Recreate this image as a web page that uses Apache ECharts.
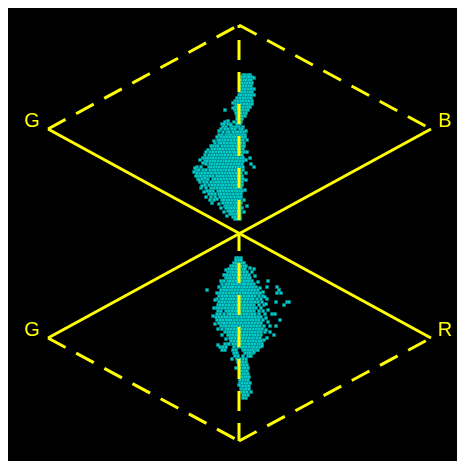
<!DOCTYPE html>
<html>
<head>
<meta charset="utf-8">
<style>
  html, body { margin: 0; padding: 0; background: #fff; overflow: hidden; }
  #chart { position: absolute; left: 8px; top: 8px; width: 449px; height: 453px; }
</style>
<script src="https://cdn.jsdelivr.net/npm/echarts@6/dist/echarts.min.js"></script>
</head>
<body>
<div id="chart"></div>
<script>
// corners of the double hexcone
const centre = [239, 233];
const top_ = [239, 25];
const bottom = [239, 441];
const upperLeft = [48, 129];
const upperRight = [431, 129];
const lowerLeft = [48, 338];
const lowerRight = [431, 338];

const labels = [
  ['G', 32, 121],
  ['B', 445, 121],
  ['G', 32, 330],
  ['R', 445, 330]
];

// upper lobe, one entry per row: [y, [x, x, ...]]
const upperCloud = [
  [75, [243, 245, 248, 250]],
  [77, [242, 244, 247, 249, 252]],
  [80, [241, 244, 246, 249, 251]],
  [83, [242, 245, 247, 250, 252]],
  [86, [241, 243, 246, 249, 251]],
  [89, [240, 243, 245, 248, 251, 254]],
  [92, [240, 242, 245, 248, 250, 252]],
  [95, [239, 241, 244, 246, 249, 251]],
  [98, [237, 240, 243, 245, 248, 251]],
  [101, [235, 238, 241, 243, 246, 249, 252]],
  [104, [236, 238, 241, 244, 247, 250, 252]],
  [107, [235, 237, 240, 243, 246, 248, 250]],
  [110, [235, 238, 241, 243, 246, 248]],
  [113, [236, 239, 241, 244, 246]],
  [116, [237, 239, 242, 245]],
  [119, [237, 240, 242]],
  [122, [238, 241, 225]],
  [124, [222, 224, 228, 230, 237, 240]],
  [127, [223, 226, 231, 233, 236, 239, 243]],
  [129, [221, 225, 228, 232, 235, 240, 242]],
  [132, [223, 227, 229, 233, 236, 238, 241, 244]],
  [135, [219, 222, 226, 229, 231, 234, 237, 240, 243, 245]],
  [137, [217, 221, 224, 227, 230, 233, 235, 238, 242, 245]],
  [140, [218, 220, 223, 225, 228, 231, 234, 237, 240, 243]],
  [143, [215, 219, 221, 224, 227, 230, 232, 235, 238, 241, 244]],
  [146, [213, 216, 218, 222, 225, 228, 231, 233, 236, 239, 242, 244]],
  [149, [212, 215, 218, 220, 223, 226, 229, 232, 234, 237, 240, 243]],
  [152, [210, 213, 216, 219, 221, 224, 227, 230, 233, 235, 238, 241, 244]],
  [155, [205, 209, 212, 214, 217, 220, 222, 225, 228, 231, 234, 236, 239, 242]],
  [158, [203, 206, 208, 211, 213, 216, 219, 222, 224, 227, 230, 233, 236, 238, 241, 243, 250]],
  [161, [205, 207, 210, 213, 215, 218, 221, 224, 226, 229, 232, 235, 237, 240, 243]],
  [164, [206, 210, 212, 215, 217, 220, 223, 226, 228, 231, 234, 237, 239, 242, 251]],
  [167, [197, 201, 209, 211, 214, 217, 219, 222, 225, 227, 230, 233, 236, 238, 241, 243, 254]],
  [170, [196, 199, 203, 206, 210, 213, 215, 218, 221, 224, 226, 229, 232, 235, 238, 240, 243]],
  [173, [197, 200, 202, 205, 208, 211, 214, 216, 219, 222, 225, 228, 230, 233, 236, 239, 241, 246]],
  [176, [196, 199, 201, 204, 207, 210, 213, 217, 220, 223, 226, 229, 231, 234, 237, 240, 242]],
  [179, [198, 202, 205, 208, 213, 215, 218, 221, 224, 227, 230, 232, 235, 238, 241, 243]],
  [182, [200, 204, 207, 211, 214, 216, 219, 222, 225, 228, 231, 233, 236, 239, 242]],
  [185, [205, 209, 212, 215, 218, 221, 223, 226, 229, 232, 234, 237, 240, 242]],
  [188, [201, 206, 211, 214, 217, 220, 222, 225, 228, 231, 234, 236, 239, 241]],
  [191, [207, 210, 213, 218, 220, 223, 226, 229, 232, 235, 237, 240, 242]],
  [194, [209, 212, 215, 219, 221, 224, 227, 230, 233, 236, 238, 241]],
  [197, [211, 215, 220, 223, 225, 228, 231, 234, 237, 239, 241]],
  [200, [210, 214, 222, 224, 227, 229, 232, 235, 238, 240]],
  [203, [223, 226, 228, 231, 234, 236, 239, 241]],
  [206, [225, 227, 230, 233, 235, 238, 240, 247]],
  [208, [226, 229, 231, 234, 237, 239, 242]],
  [211, [228, 230, 233, 236, 238, 240]],
  [214, [230, 232, 235, 237, 240]],
  [217, [233, 235, 238, 240]],
  [219, [235, 237, 240]]
];

// loose points around the upper lobe's edge: [x, y]
const upperStrays = [
  [228, 121], [234, 122], [231, 125], [219, 131], [214, 141], [211, 146], [208, 150], [206, 152],
  [200, 160], [203, 163], [195, 168], [194, 172], [205, 178], [199, 180], [202, 186], [204, 192],
  [206, 197], [212, 203], [217, 199], [219, 204], [221, 208], [224, 212], [227, 216],
  [246, 131], [247, 140], [247, 152], [246, 160], [246, 180], [245, 190], [244, 200], [244, 212],
  [254, 78], [254, 95], [233, 103], [233, 108], [225, 110]
];

// lower lobe, same layout
const lowerCloud = [
  [258, [236, 238, 241]],
  [260, [236, 239, 241]],
  [263, [234, 236, 239, 242, 244]],
  [266, [231, 233, 236, 239, 241, 244, 246]],
  [269, [229, 232, 235, 237, 240, 243, 245, 254]],
  [272, [228, 231, 233, 236, 239, 241, 244, 247]],
  [275, [225, 227, 230, 233, 235, 238, 241, 244, 246, 249]],
  [278, [226, 229, 231, 234, 237, 240, 242, 245, 248, 250]],
  [281, [224, 228, 230, 233, 236, 239, 241, 244, 247, 249, 252, 268]],
  [284, [222, 226, 229, 232, 234, 237, 240, 243, 245, 248, 251, 254]],
  [287, [223, 225, 228, 231, 233, 236, 239, 242, 244, 247, 250, 253, 256, 267, 277]],
  [290, [207, 221, 224, 227, 230, 232, 235, 238, 241, 243, 246, 249, 252, 255, 258, 279]],
  [293, [220, 223, 226, 229, 232, 234, 237, 240, 243, 245, 248, 251, 254, 257, 260, 277, 281]],
  [296, [219, 222, 225, 227, 230, 233, 236, 238, 241, 244, 247, 249, 252, 255, 259, 263]],
  [299, [217, 221, 223, 226, 229, 231, 234, 237, 240, 242, 245, 248, 251, 253, 257, 261, 267]],
  [302, [219, 222, 225, 228, 230, 233, 236, 239, 241, 244, 247, 250, 252, 255, 258, 262, 276, 287, 289]],
  [305, [218, 220, 223, 226, 229, 232, 234, 237, 240, 243, 245, 248, 251, 254, 259, 264, 284]],
  [308, [217, 219, 222, 225, 228, 231, 233, 236, 239, 242, 244, 247, 250, 253, 256, 261]],
  [311, [218, 221, 226, 229, 232, 235, 237, 240, 243, 246, 248, 251, 254, 259, 263]],
  [314, [217, 220, 224, 228, 230, 233, 236, 239, 241, 244, 247, 250, 252, 255, 259, 265, 272, 275]],
  [317, [216, 219, 222, 225, 227, 230, 233, 236, 238, 241, 244, 247, 249, 252, 255, 258, 261]],
  [320, [217, 220, 223, 226, 229, 231, 234, 237, 240, 242, 245, 248, 251, 253, 256, 259, 263, 280]],
  [323, [219, 222, 224, 227, 230, 233, 235, 238, 241, 244, 246, 249, 252, 255, 258, 261]],
  [326, [221, 224, 226, 229, 232, 235, 237, 240, 243, 246, 248, 251, 254, 257, 260, 264, 270, 276]],
  [329, [222, 226, 228, 231, 234, 237, 239, 242, 245, 248, 250, 253, 256, 259, 262]],
  [332, [225, 228, 230, 233, 236, 239, 241, 244, 247, 250, 252, 255, 258, 261, 265, 270]],
  [335, [228, 231, 233, 236, 239, 242, 244, 247, 250, 253, 255, 258, 261, 274]],
  [338, [230, 232, 235, 238, 241, 243, 246, 249, 252, 254, 257, 260, 267]],
  [341, [231, 234, 237, 240, 242, 245, 248, 251, 253, 256, 259, 261]],
  [344, [225, 228, 233, 236, 238, 241, 244, 247, 249, 252, 255, 258, 260, 262]],
  [347, [220, 223, 226, 234, 238, 241, 243, 246, 249, 252, 254, 257, 260]],
  [350, [222, 225, 233, 236, 243, 245, 248, 251, 253, 256, 258]],
  [353, [234, 237, 245, 248, 250, 253]],
  [356, [235, 238, 243, 248, 251]],
  [359, [237, 240, 243, 246]],
  [362, [238, 241, 243, 246]],
  [365, [239, 242, 244, 247]],
  [368, [236, 240, 243, 245, 248]],
  [371, [240, 242, 245, 247]],
  [374, [240, 243, 245, 248]],
  [377, [240, 242, 245, 247, 249]],
  [380, [240, 243, 246, 248]],
  [383, [240, 242, 245, 247, 250]],
  [386, [241, 243, 246, 249]],
  [389, [241, 244, 246, 249]],
  [392, [242, 244, 247]],
  [395, [243, 245, 248]],
  [398, [243, 246]]
];

const lowerStrays = [
  [226, 270], [224, 275], [221, 281], [219, 287], [217, 293], [215, 300], [214, 308], [213, 316],
  [215, 324], [218, 329], [222, 335], [226, 339], [229, 344], [218, 345], [250, 268], [252, 272],
  [255, 276], [258, 282], [260, 288], [263, 292], [265, 297], [266, 304], [268, 310], [266, 318],
  [268, 322], [266, 330], [264, 340], [262, 346], [254, 352], [250, 356], [232, 359], [251, 392], [239, 385]
];

function toPoints(rows) {
  const out = [];
  rows.forEach(function (row) {
    row[1].forEach(function (x) {
      out.push([x, row[0]]);
    });
  });
  return out;
}

function solid(a, b) {
  return {
    type: 'line',
    data: [a, b],
    symbol: 'none',
    z: 5,
    lineStyle: { color: '#ffff00', width: 3, opacity: 1 }
  };
}

function dashed(a, b, offset) {
  return {
    type: 'line',
    data: [a, b],
    symbol: 'none',
    z: 5,
    lineStyle: {
      color: '#ffff00',
      width: 3,
      opacity: 1,
      type: [20, 12],
      dashOffset: offset || 0,
      cap: 'butt'
    }
  };
}

const chart = echarts.init(document.getElementById('chart'));
chart.setOption({
  animation: false,
  backgroundColor: '#000000',
  grid: { left: 0, right: 0, top: 0, bottom: 0 },
  xAxis: { type: 'value', min: 8, max: 457, show: false },
  yAxis: { type: 'value', min: 8, max: 461, inverse: true, show: false },
  series: [
    {
      type: 'scatter',
      z: 2,
      symbol: 'rect',
      symbolSize: 3,
      data: toPoints(upperCloud).concat(upperStrays, toPoints(lowerCloud), lowerStrays),
      itemStyle: { color: '#00cccc', borderColor: '#008f8f', borderWidth: 0.5, opacity: 1 }
    },
    solid(upperLeft, lowerRight),
    solid(lowerLeft, upperRight),
    dashed(upperLeft, top_),
    dashed(top_, upperRight),
    dashed(lowerLeft, bottom),
    dashed(bottom, lowerRight),
    dashed(top_, centre, 17),
    dashed(centre, bottom, 2),
    {
      type: 'scatter',
      z: 6,
      symbolSize: 0,
      itemStyle: { opacity: 1 },
      data: labels.map(function (l) { return { name: l[0], value: [l[1], l[2]] }; }),
      label: {
        show: true,
        position: 'inside',
        formatter: '{b}',
        color: '#ffff00',
        opacity: 1,
        fontFamily: 'Liberation Sans',
        fontSize: 20
      }
    }
  ]
});
</script>
</body>
</html>
